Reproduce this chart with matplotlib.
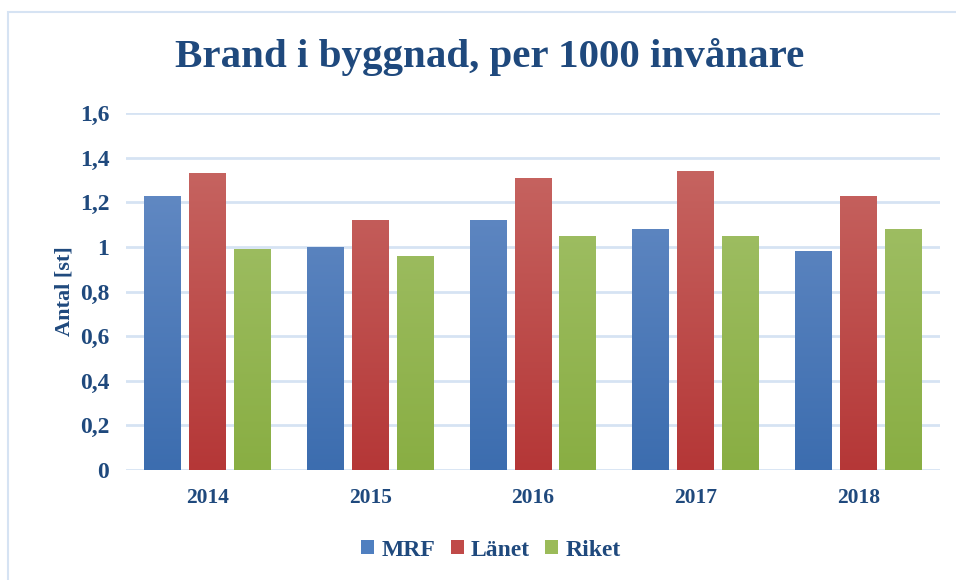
import matplotlib
matplotlib.use("Agg")
import matplotlib.pyplot as plt
import numpy as np
from matplotlib.colors import LinearSegmentedColormap
from matplotlib.patches import Patch
from matplotlib.ticker import FuncFormatter

years = ["2014", "2015", "2016", "2017", "2018"]
series = ["MRF", "Länet", "Riket"]
mrf = [1.23, 1.00, 1.12, 1.08, 0.98]
lanet = [1.33, 1.12, 1.31, 1.34, 1.23]
riket = [0.99, 0.96, 1.05, 1.05, 1.08]
yticks = [0, 0.2, 0.4, 0.6, 0.8, 1.0, 1.2, 1.4, 1.6]

top_cols = ["#6B90C8", "#C96C68", "#A7C470"]
bot_cols = ["#3C6DAF", "#B53737", "#89AE43"]
mid_cols = ["#4F7FC0", "#C04A48", "#9BBB59"]

txt = "#1F497D"
font = "Liberation Serif"

fig = plt.figure(figsize=(9.56, 5.80), dpi=100)
# outer frame
fig.patches.append(plt.Rectangle((8/956, -0.05), 1.1, 1 - 12/580 + 0.05,
                                 transform=fig.transFigure, fill=False,
                                 edgecolor="#D6E3F3", linewidth=1.5))
ax = fig.add_axes([126/956, 1 - 470/580, (940-126)/956, (470-113)/580])

x = np.arange(len(years))
w = 0.227
step = 0.276
data = [mrf, lanet, riket]
for i, vals in enumerate(data):
    cmap = LinearSegmentedColormap.from_list("g%d" % i, [bot_cols[i], top_cols[i]])
    bars = ax.bar(x + (i - 1) * step, vals, width=w, color=mid_cols[i], zorder=2)
    grad = np.linspace(0, 1, 256).reshape(-1, 1)
    for b in bars:
        x0 = b.get_x()
        im = ax.imshow(grad, cmap=cmap, origin="lower", aspect="auto",
                       extent=[x0, x0 + b.get_width(), 0, 1.6], zorder=3,
                       vmin=0, vmax=1)
        im.set_clip_path(b)

ax.set_xlim(-0.5, len(years) - 0.5)
ax.set_ylim(0, 1.6)
ax.set_yticks(yticks)
ax.yaxis.set_major_formatter(FuncFormatter(lambda v, p: ("%g" % round(v, 1)).replace(".", ",")))
ax.set_xticks(x)
ax.set_xticklabels(years)
ax.grid(axis="y", color="#D6E3F3", linewidth=2, zorder=0)
ax.set_axisbelow(True)
for s in ax.spines.values():
    s.set_visible(False)
ax.tick_params(length=0)
ax.tick_params(axis="y", pad=12)
ax.tick_params(axis="x", pad=13)
for lab in ax.get_yticklabels():
    lab.set_fontfamily(font)
    lab.set_fontweight("bold")
    lab.set_fontsize(17)
    lab.set_color(txt)
for lab in ax.get_xticklabels():
    lab.set_fontfamily(font)
    lab.set_fontweight("bold")
    lab.set_fontsize(15.5)
    lab.set_color(txt)
ax.set_ylabel("Antal [st]", fontfamily=font, fontweight="bold", fontsize=16,
              color=txt, labelpad=4)

fig.text(490/956, 1 - 57/580, "Brand i byggnad, per 1000 invånare",
         ha="center", va="center", fontfamily=font, fontweight="bold",
         fontsize=29.5, color=txt)

handles = [Patch(facecolor=mid_cols[i], edgecolor="none") for i in range(3)]
leg = fig.legend(handles, series, loc="center", bbox_to_anchor=(491/956, 1 - 550/580),
                 ncol=3, frameon=False, handlelength=0.55, handleheight=0.55,
                 handletextpad=0.3, columnspacing=0.65,
                 prop={"family": font, "weight": "bold", "size": 17})
for t in leg.get_texts():
    t.set_color(txt)

fig.savefig("out.png", dpi=100)
